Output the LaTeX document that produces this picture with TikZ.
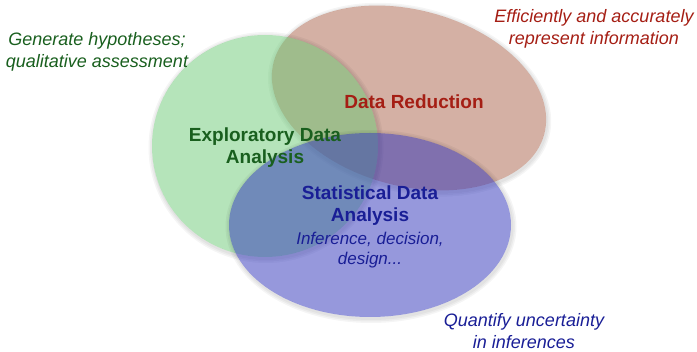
\documentclass[tikz,border=0pt]{standalone}
\usepackage{fontspec}
\setmainfont{Liberation Sans}

\definecolor{redblob}{RGB}{169,97,73}
\definecolor{greenblob}{RGB}{107,201,117}
\definecolor{blueblob}{RGB}{45,49,185}
\definecolor{redtext}{RGB}{165,30,20}
\definecolor{greentext}{RGB}{25,95,30}
\definecolor{bluetext}{RGB}{25,30,150}

\begin{document}
\begin{tikzpicture}[
  x=1pt, y=-1pt,
  blob/.style={fill=#1, fill opacity=0.5},
  soft/.style={fill=black, fill opacity=0.04, even odd rule},
  head/.style={font=\fontsize{19}{22}\selectfont\bfseries, align=center, text=#1},
  note/.style={font=\fontsize{18}{22}\selectfont\itshape, align=center, text=#1},
]
  \useasboundingbox (0,0) rectangle (697,352);

  % the three overlapping areas, each with a soft shadow ring outside
  \foreach \col/\cx/\cy/\rx/\ry/\rot in {redblob/409/98/140/88/-15, greenblob/265/146/113/111/0, blueblob/370/225/141/92/0} {
    \foreach \k in {1.5,3,4.5}
      \path[soft, rotate around={\rot:(\cx,\cy)}]
        (\cx+1,\cy+1.5) ellipse [x radius=\rx+\k, y radius=\ry+\k]
        (\cx,\cy) ellipse [x radius=\rx, y radius=\ry];
    \fill[blob=\col, rotate around={\rot:(\cx,\cy)}] (\cx,\cy) ellipse [x radius=\rx, y radius=\ry];
  }

  % area titles
  \node[head=redtext] (red) at (414,102) {Data Reduction};
  \node[head=greentext] (eda) at (265,148) {Exploratory Data\\Analysis};
  \node[head=bluetext] (sda) at (370,206) {Statistical Data\\Analysis};
  \node[note=bluetext, font=\fontsize{17}{20}\selectfont\itshape] (inf) at (370,250) {Inference, decision,\\design...};

  % goals outside
  \node[note=greentext] (hyp) at (97,52) {Generate hypotheses;\\qualitative assessment};
  \node[note=redtext] (eff) at (594,29) {Efficiently and accurately\\represent information};
  \node[note=bluetext] (unc) at (524,331) {Quantify uncertainty\\in inferences};
\end{tikzpicture}
\end{document}
